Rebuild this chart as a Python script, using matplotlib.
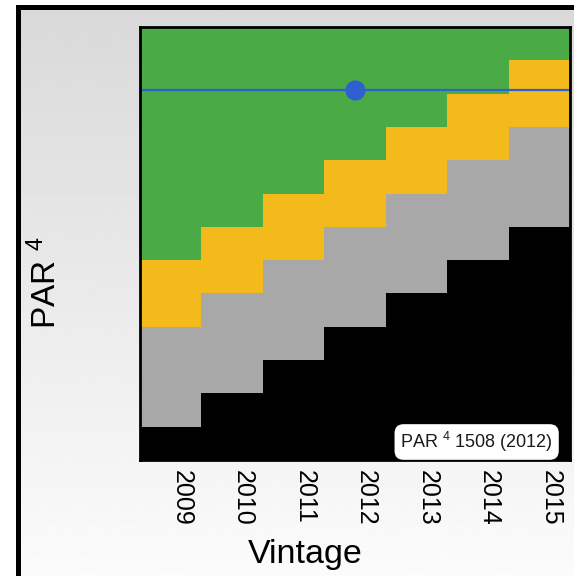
import numpy as np
import matplotlib
matplotlib.use("Agg")
import matplotlib.pyplot as plt
from matplotlib.transforms import ScaledTranslation

plt.rcParams['font.family'] = ['Liberation Sans', 'DejaVu Sans']
plt.rcParams['mathtext.default'] = 'regular'

# drinking window per vintage, in rows from the bottom
vintages = [2009, 2010, 2011, 2012, 2013, 2014, 2015]
black_top = [1, 2, 3, 4, 5, 6, 7]
gray_top = [4, 5, 6, 7, 8, 9, 10]
yellow_top = [6, 7, 8, 9, 10, 11, 12]
n_rows = 13
par_value = 11.1
par_vintage = 2012
par_label = "PAR $^{4}$ 1508 (2012)"

W, H = 574, 576
fig = plt.figure(figsize=(W / 100, H / 100), dpi=100, facecolor='white')

# background panel with vertical gray gradient
bg = fig.add_axes([18 / W, 0, 1 - 18 / W, (H - 7) / H])
grad = np.linspace(0.85, 0.985, 256).reshape(-1, 1)
bg.imshow(grad, aspect='auto', cmap='gray', vmin=0, vmax=1,
          extent=[0, 1, 0, 1], origin='upper')
bg.set_xticks([])
bg.set_yticks([])
for side in ['right', 'bottom']:
    bg.spines[side].set_visible(False)
for side in ['top', 'left']:
    bg.spines[side].set_linewidth(3.6)
    bg.spines[side].set_color('black')

ax = fig.add_axes([140 / W, 116 / H, 430 / W, 433 / H])
x = np.array(vintages)
black_top = np.array(black_top)
gray_top = np.array(gray_top)
yellow_top = np.array(yellow_top)

ax.bar(x, black_top, width=1.0, color='black', linewidth=0)
ax.bar(x, gray_top - black_top, bottom=black_top, width=1.0, color='#a8a8a8', linewidth=0)
ax.bar(x, yellow_top - gray_top, bottom=gray_top, width=1.0, color='#f4b91b', linewidth=0)
ax.bar(x, n_rows - yellow_top, bottom=yellow_top, width=1.0, color='#4aaa45', linewidth=0)

ax.axhline(par_value, color='#2f5fd0', linewidth=1.6)
ax.plot([par_vintage], [par_value], 'o', color='#2f5fd0', markersize=13.5)

ax.set_xlim(x[0] - 0.5, x[-1] + 0.5)
ax.set_ylim(0, n_rows)
ax.set_yticks([])
ax.set_xticks(x)
ax.set_xticklabels([str(v) for v in vintages], rotation=-90, fontsize=18)
ax.tick_params(axis='x', length=0, pad=7)
for lab in ax.get_xticklabels():
    lab.set_transform(lab.get_transform() + ScaledTranslation(0.11, 0, fig.dpi_scale_trans))
for s in ax.spines.values():
    s.set_linewidth(2)
    s.set_color('black')

ax.text((553 - 140) / 430, (460 - 442) / 433, par_label, transform=ax.transAxes,
        ha='right', va='center', fontsize=13, color='#1a1a1a',
        bbox=dict(boxstyle='round,pad=0.32,rounding_size=0.5', fc='white', ec='none'))

fig.text(305 / W, 1 - 555 / H, "Vintage", ha='center', va='center', fontsize=24.5)
fig.text(46 / W, 1 - 283 / H, "PAR $^{4}$", ha='center', va='center', rotation=90, fontsize=24)

fig.savefig("out.png", dpi=100)
